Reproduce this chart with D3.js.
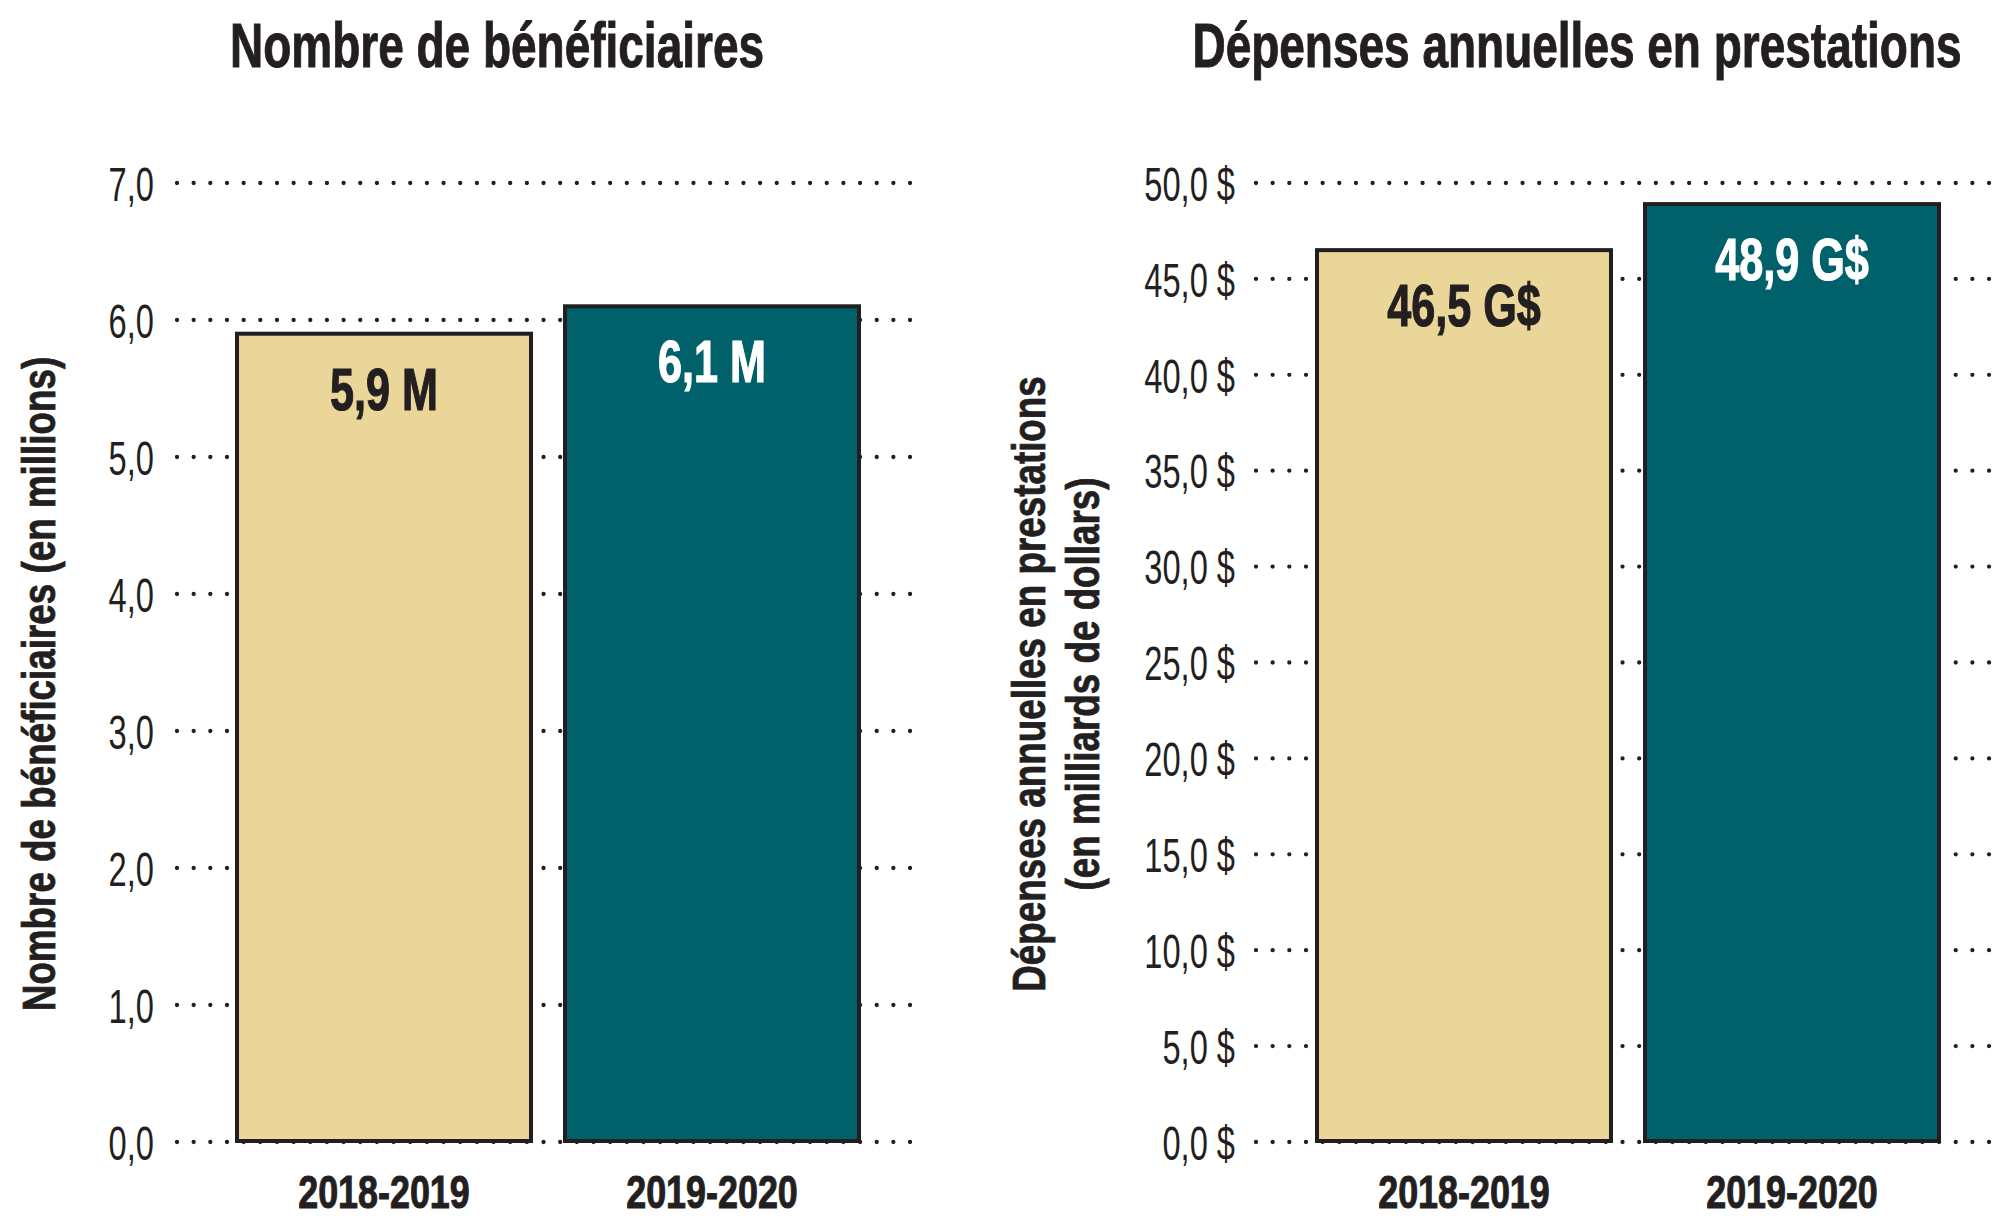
<!DOCTYPE html>
<html>
<head>
<meta charset="utf-8">
<script src="https://cdn.jsdelivr.net/npm/d3@7"></script>
<style>
	body { margin: 0; background: #fff; }
	text { font-family: "Liberation Sans", Arial, sans-serif; fill: #231f20; }
</style>
</head>
<body>
<svg id="chart"></svg>
<script>

// data
const periods = ["2018-2019", "2019-2020"];
const beneficiaires = [5.9, 6.1];          // millions
const beneficiairesLabels = ["5,9 M", "6,1 M"];
const depenses = [46.5, 48.9];             // milliards $
const depensesLabels = ["46,5 G$", "48,9 G$"];
const beneficiairesTicks = [0, 1, 2, 3, 4, 5, 6, 7];
const depensesTicks = [0, 5, 10, 15, 20, 25, 30, 35, 40, 45, 50];
const barColors = ["#ebd69a", "#00616a"];
const labelColors = ["#231f20", "#ffffff"];

var width = 2011,
	height = 1230,
	ink = "#231f20";

var svg = d3.select("#chart")
	.attr("width", width)
	.attr("height", height);

svg.append("rect")
	.attr("width", width)
	.attr("height", height)
	.attr("fill", "#fff");

// shrink text horizontally, fonts here are wider than the original condensed face
function squeeze(sel, k) {
	sel.each(function() {
		var w = this.getComputedTextLength();
		d3.select(this)
			.attr("textLength", w * k)
			.attr("lengthAdjust", "spacingAndGlyphs");
	});
}

var comma = d3.format(".1f");

function panel(o) {
	var g = svg.append("g");

	var y = d3.scaleLinear()
		.domain(o.domain)
		.range([1142, 183]);

	var x = d3.scaleBand()
		.domain(periods)
		.range(o.barRange)
		.paddingInner(0.1037);

	// dotted grid
	g.append("g")
		.selectAll("line")
		.data(o.ticks)
		.join("line")
		.attr("x1", o.grid[0])
		.attr("x2", o.grid[1])
		.attr("y1", d => y(d))
		.attr("y2", d => y(d))
		.attr("stroke", ink)
		.attr("stroke-width", 4.3)
		.attr("stroke-linecap", "round")
		.attr("stroke-dasharray", "0 16.66");

	// tick labels
	var axis = g.append("g")
		.attr("transform", `translate(${o.labelRight},0)`)
		.call(d3.axisLeft(y)
			.tickValues(o.ticks)
			.tickSize(0)
			.tickPadding(0)
			.tickFormat(d => comma(d).replace(".", ",") + o.suffix));
	axis.select(".domain").remove();
	axis.selectAll("text")
		.attr("font-family", "Liberation Sans, Arial, sans-serif")
		.attr("font-size", 48)
		.attr("fill", ink)
		.attr("dy", "0.36em")
		.call(squeeze, 0.68);

	// bars
	g.append("g")
		.selectAll("rect")
		.data(o.values)
		.join("rect")
		.attr("x", (d, i) => x(periods[i]))
		.attr("width", x.bandwidth())
		.attr("y", d => y(d))
		.attr("height", d => y(0) - y(d) - 1)
		.attr("fill", (d, i) => barColors[i])
		.attr("stroke", ink)
		.attr("stroke-width", 4);

	// value labels
	g.append("g")
		.selectAll("text")
		.data(o.values)
		.join("text")
		.attr("x", (d, i) => x(periods[i]) + x.bandwidth() / 2)
		.attr("y", d => y(d) + 76)
		.attr("text-anchor", "middle")
		.attr("font-weight", "bold")
		.attr("font-size", 60)
		.style("fill", (d, i) => labelColors[i])
		.attr("stroke", (d, i) => labelColors[i])
		.attr("stroke-width", 1.2)
		.text((d, i) => o.labels[i])
		.call(squeeze, 0.72);

	// categories
	g.append("g")
		.selectAll("text")
		.data(periods)
		.join("text")
		.attr("x", d => x(d) + x.bandwidth() / 2)
		.attr("y", 1208)
		.attr("text-anchor", "middle")
		.attr("font-weight", "bold")
		.attr("font-size", 46)
		.attr("stroke", ink)
		.attr("stroke-width", 1)
		.text(d => d)
		.call(squeeze, 0.78);

	// title, squeezed with a transform so its box stays inside the page
	g.append("text")
		.attr("transform", `translate(${o.titleX},67) scale(0.73,1)`)
		.attr("text-anchor", "middle")
		.attr("font-weight", "bold")
		.attr("font-size", 63)
		.attr("stroke", ink)
		.attr("stroke-width", 1)
		.text(o.title);

	// y axis title, one text per line
	o.yTitle.forEach((line, i) => {
		g.append("text")
			.attr("transform", `translate(${o.yTitleX[i]},684) rotate(-90)`)
			.attr("text-anchor", "middle")
			.attr("font-weight", "bold")
			.attr("font-size", 46)
			.attr("stroke", ink)
			.attr("stroke-width", 0.8)
			.text(line)
			.call(squeeze, 0.8);
	});
}

panel({
	values: beneficiaires,
	labels: beneficiairesLabels,
	ticks: beneficiairesTicks,
	domain: [0, 7],
	suffix: "",
	barRange: [237, 859],
	grid: [177, 912],
	labelRight: 154,
	title: "Nombre de bénéficiaires",
	titleX: 497,
	yTitle: ["Nombre de bénéficiaires (en millions)"],
	yTitleX: [55]
});

panel({
	values: depenses,
	labels: depensesLabels,
	ticks: depensesTicks,
	domain: [0, 50],
	suffix: " $",
	barRange: [1317, 1939],
	grid: [1256, 1991],
	labelRight: 1235,
	title: "Dépenses annuelles en prestations",
	titleX: 1577,
	yTitle: ["Dépenses annuelles en prestations", "(en milliards de dollars)"],
	yTitleX: [1045, 1099]
});

</script>
</body>
</html>
